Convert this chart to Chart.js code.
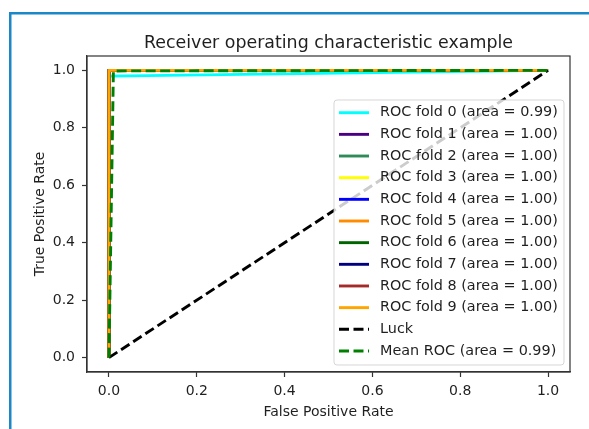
<!DOCTYPE html>
<html>
<head>
<meta charset="utf-8">
<script src="https://cdn.jsdelivr.net/npm/chart.js@4.4.1/dist/chart.umd.min.js"></script>
<style>
  html, body { margin: 0; padding: 0; background: #ffffff; }
  #c { display: block; }
</style>
</head>
<body>
<canvas id="c" width="589" height="429"></canvas>
<script>
// ---- data ----
const chartTitle = 'Receiver operating characteristic example';
const foldLabels = ['ROC fold 0', 'ROC fold 1', 'ROC fold 2', 'ROC fold 3', 'ROC fold 4',
                    'ROC fold 5', 'ROC fold 6', 'ROC fold 7', 'ROC fold 8', 'ROC fold 9'];
const foldAreas = ['0.99', '1.00', '1.00', '1.00', '1.00', '1.00', '1.00', '1.00', '1.00', '1.00'];
const foldColors = ['#00ffff', '#4b0082', '#2e8b57', '#ffff00', '#0000ff',
                    '#ff8c00', '#006400', '#000080', '#a52a2a', '#ffa500'];
const fold0Fpr = [0, 0, 1];
const fold0Tpr = [0, 0.98, 1];
const perfectFpr = [0, 0, 1];
const perfectTpr = [0, 1, 1];
const luckFpr = [0, 1];
const luckTpr = [0, 1];
const meanFpr = [0, 0.0101, 1];
const meanTpr = [0, 0.998, 1];
const meanArea = '0.99';
const xTicks = [0, 0.2, 0.4, 0.6, 0.8, 1.0];
const yTicks = [0, 0.2, 0.4, 0.6, 0.8, 1.0];

const FONT = "'DejaVu Sans', sans-serif";
const pts = (xs, ys) => xs.map((x, i) => ({ x: x, y: ys[i] }));

const datasets = [];
foldLabels.forEach((name, i) => {
  const isFirst = i === 0;
  datasets.push({
    label: name + ' (area = ' + foldAreas[i] + ')',
    data: isFirst ? pts(fold0Fpr, fold0Tpr) : pts(perfectFpr, perfectTpr),
    borderColor: foldColors[i],
    borderWidth: 2.9,
    borderDash: []
  });
});
datasets.push({
  label: 'Luck',
  data: pts(luckFpr, luckTpr),
  borderColor: '#000000',
  borderWidth: 2.9,
  borderDash: [10, 4.5]
});
datasets.push({
  label: 'Mean ROC (area = ' + meanArea + ')',
  data: pts(meanFpr, meanTpr),
  borderColor: '#008000',
  borderWidth: 2.9,
  borderDash: [10, 4.5]
});
datasets.forEach((d, i) => {
  d.order = -i;
  d.showLine = true;
  d.pointRadius = 0;
  d.pointHoverRadius = 0;
  d.tension = 0;
  d.fill = false;
  d.borderJoinStyle = 'round';
});

const framePlugin = {
  id: 'frame',
  beforeDraw(chart) {
    const ctx = chart.ctx;
    ctx.save();
    ctx.fillStyle = '#ffffff';
    ctx.fillRect(0, 0, chart.width, chart.height);
    ctx.fillStyle = '#1b87c8';
    ctx.fillRect(9, 12, chart.width - 9, 2.5);
    ctx.fillRect(9, 12, 2.5, chart.height - 12);
    ctx.restore();
  },
  afterDraw(chart) {
    const ctx = chart.ctx;
    const a = chart.chartArea;
    ctx.save();
    ctx.fillStyle = '#1f1f1f';
    ctx.font = '17.4px ' + FONT;
    ctx.textAlign = 'center';
    ctx.textBaseline = 'middle';
    ctx.fillText(chartTitle, (a.left + a.right) / 2, 43);
    ctx.restore();
  },
  afterDatasetsDraw(chart) {
    const ctx = chart.ctx;
    const a = chart.chartArea;
    // spines
    ctx.save();
    ctx.strokeStyle = '#333333';
    ctx.lineWidth = 1.2;
    ctx.strokeRect(a.left, a.top, a.right - a.left, a.bottom - a.top);
    ctx.restore();
    // legend (drawn over the lines, semi transparent like matplotlib)
    const x0 = 334, y0 = 100, w = 230, h = 265, r = 3;
    ctx.save();
    ctx.beginPath();
    ctx.moveTo(x0 + r, y0);
    ctx.lineTo(x0 + w - r, y0);
    ctx.arcTo(x0 + w, y0, x0 + w, y0 + r, r);
    ctx.lineTo(x0 + w, y0 + h - r);
    ctx.arcTo(x0 + w, y0 + h, x0 + w - r, y0 + h, r);
    ctx.lineTo(x0 + r, y0 + h);
    ctx.arcTo(x0, y0 + h, x0, y0 + h - r, r);
    ctx.lineTo(x0, y0 + r);
    ctx.arcTo(x0, y0, x0 + r, y0, r);
    ctx.closePath();
    ctx.fillStyle = 'rgba(255,255,255,0.8)';
    ctx.fill();
    ctx.strokeStyle = 'rgba(204,204,204,0.8)';
    ctx.lineWidth = 1;
    ctx.stroke();
    const ds = chart.data.datasets;
    ds.forEach((d, i) => {
      const cy = 112.7 + i * 21.66;
      ctx.beginPath();
      ctx.setLineDash(d.borderDash || []);
      ctx.strokeStyle = d.borderColor;
      ctx.lineWidth = 2.9;
      ctx.moveTo(339, cy);
      ctx.lineTo(369, cy);
      ctx.stroke();
      ctx.setLineDash([]);
      ctx.fillStyle = '#1f1f1f';
      ctx.font = '14.4px ' + FONT;
      ctx.textAlign = 'left';
      ctx.textBaseline = 'middle';
      ctx.fillText(d.label, 380, cy);
    });
    ctx.restore();
  }
};

new Chart(document.getElementById('c'), {
  type: 'scatter',
  data: { datasets: datasets },
  options: {
    responsive: false,
    animation: false,
    devicePixelRatio: 1,
    layout: { padding: { left: 0, right: 19, top: 56, bottom: 0 } },
    plugins: {
      legend: { display: false },
      tooltip: { enabled: false },
      title: { display: false }
    },
    scales: {
      x: {
        type: 'linear',
        min: -0.05,
        max: 1.05,
        afterBuildTicks(scale) { scale.ticks = xTicks.map(v => ({ value: v })); },
        afterFit(scale) { scale.height = 57; },
        ticks: {
          color: '#1f1f1f',
          font: { family: FONT, size: 14 },
          padding: 6,
          maxRotation: 0,
          autoSkip: false,
          callback: v => Number(v).toFixed(1)
        },
        grid: { display: true, drawOnChartArea: false, drawTicks: true, tickLength: 5, tickColor: '#333333', tickWidth: 1.2 },
        border: { display: true, color: '#333333', width: 1.2 },
        title: {
          display: true,
          text: 'False Positive Rate',
          color: '#1f1f1f',
          font: { family: FONT, size: 14 },
          padding: { top: 0, bottom: 8 }
        }
      },
      y: {
        type: 'linear',
        min: -0.05,
        max: 1.05,
        afterBuildTicks(scale) { scale.ticks = yTicks.map(v => ({ value: v })); },
        afterFit(scale) { scale.width = 87; },
        ticks: {
          color: '#1f1f1f',
          font: { family: FONT, size: 14 },
          padding: 7,
          autoSkip: false,
          callback: v => Number(v).toFixed(1)
        },
        grid: { display: true, drawOnChartArea: false, drawTicks: true, tickLength: 5, tickColor: '#333333', tickWidth: 1.2 },
        border: { display: true, color: '#333333', width: 1.2 },
        title: {
          display: true,
          text: 'True Positive Rate',
          color: '#1f1f1f',
          font: { family: FONT, size: 14 },
          padding: { top: 31.6, bottom: 0 }
        }
      }
    }
  },
  plugins: [framePlugin]
});
</script>
</body>
</html>
